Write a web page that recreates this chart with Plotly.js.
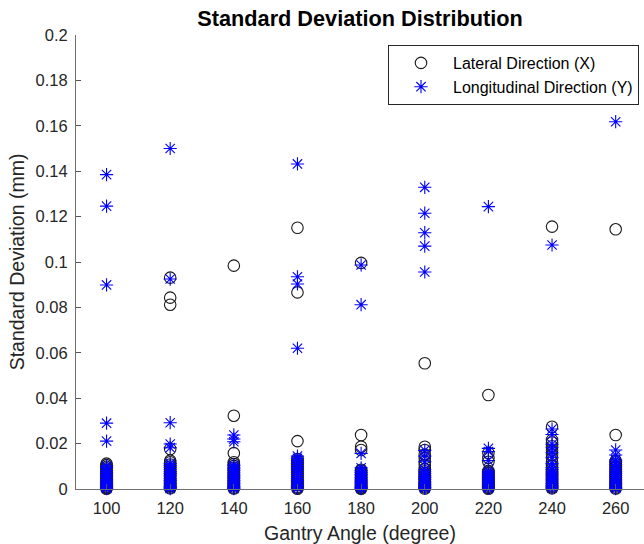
<!DOCTYPE html>
<html>
<head>
<meta charset="utf-8">
<script src="https://cdn.plot.ly/plotly-3.0.1.min.js"></script>
<style>html,body{margin:0;padding:0;background:#fff;}#chart{width:644px;height:544px;}</style>
</head>
<body>
<div id="chart"></div>
<script>
var angles = [100, 120, 140, 160, 180, 200, 220, 240, 260];
var tickLabels = ['100', '120', '140', '160', '180', '200', '220', '240', '260'];

// Lateral Direction (X) standard deviations per gantry angle (mm)
var lat100 = [0.0112, 0.0105, 0.0098, 0.0091, 0.0085, 0.0078, 0.0072, 0.0066, 0.0060, 0.0053, 0.0047, 0.0041, 0.0035, 0.0029, 0.0023, 0.0017, 0.0012, 0.0008, 0.0004, 0.0001];
var lat120 = [0.0931, 0.0843, 0.0812, 0.0176, 0.0125, 0.0118, 0.0108, 0.0099, 0.0090, 0.0082, 0.0074, 0.0066, 0.0058, 0.0050, 0.0042, 0.0035, 0.0027, 0.0020, 0.0013, 0.0007, 0.0003];
var lat140 = [0.0984, 0.0323, 0.0158, 0.0118, 0.0110, 0.0102, 0.0094, 0.0086, 0.0078, 0.0070, 0.0062, 0.0054, 0.0046, 0.0039, 0.0032, 0.0025, 0.0018, 0.0012, 0.0006, 0.0002];
var lat160 = [0.1151, 0.0866, 0.0211, 0.0132, 0.0124, 0.0115, 0.0106, 0.0097, 0.0088, 0.0080, 0.0071, 0.0063, 0.0055, 0.0047, 0.0039, 0.0031, 0.0024, 0.0017, 0.0010, 0.0005, 0.0001];
var lat180 = [0.0996, 0.0238, 0.0186, 0.0172, 0.0085, 0.0079, 0.0072, 0.0065, 0.0058, 0.0051, 0.0044, 0.0038, 0.0031, 0.0025, 0.0019, 0.0013, 0.0008, 0.0004, 0.0001];
var lat200 = [0.0554, 0.0186, 0.0172, 0.0152, 0.0135, 0.0120, 0.0105, 0.0088, 0.0078, 0.0070, 0.0062, 0.0054, 0.0046, 0.0039, 0.0032, 0.0025, 0.0018, 0.0012, 0.0007, 0.0002];
var lat220 = [0.0414, 0.0159, 0.0137, 0.0120, 0.0080, 0.0074, 0.0067, 0.0060, 0.0053, 0.0046, 0.0040, 0.0033, 0.0027, 0.0021, 0.0015, 0.0010, 0.0005, 0.0001];
var lat240 = [0.1156, 0.0274, 0.0216, 0.0205, 0.0188, 0.0170, 0.0152, 0.0135, 0.0118, 0.0102, 0.0090, 0.0080, 0.0071, 0.0062, 0.0053, 0.0045, 0.0037, 0.0029, 0.0021, 0.0014, 0.0008, 0.0003];
var lat260 = [0.1144, 0.0238, 0.0125, 0.0118, 0.0110, 0.0102, 0.0094, 0.0086, 0.0078, 0.0070, 0.0062, 0.0054, 0.0046, 0.0039, 0.0032, 0.0025, 0.0018, 0.0012, 0.0006, 0.0002];

// Longitudinal Direction (Y) standard deviations per gantry angle (mm)
var lon100 = [0.1385, 0.1246, 0.0899, 0.0290, 0.0211, 0.0102, 0.0094, 0.0081, 0.0073, 0.0065, 0.0058, 0.0049, 0.0042, 0.0036, 0.0030, 0.0024, 0.0018, 0.0013, 0.0009, 0.0005, 0.0002];
var lon120 = [0.1500, 0.0925, 0.0292, 0.0198, 0.0182, 0.0112, 0.0103, 0.0095, 0.0086, 0.0077, 0.0069, 0.0061, 0.0054, 0.0046, 0.0038, 0.0031, 0.0024, 0.0017, 0.0011, 0.0006, 0.0002];
var lon140 = [0.0238, 0.0220, 0.0208, 0.0105, 0.0097, 0.0090, 0.0082, 0.0074, 0.0066, 0.0059, 0.0051, 0.0044, 0.0037, 0.0030, 0.0023, 0.0017, 0.0011, 0.0006, 0.0002];
var lon160 = [0.1432, 0.0935, 0.0903, 0.0620, 0.0145, 0.0135, 0.0124, 0.0113, 0.0103, 0.0093, 0.0083, 0.0073, 0.0064, 0.0055, 0.0046, 0.0038, 0.0030, 0.0022, 0.0015, 0.0009, 0.0004];
var lon180 = [0.0987, 0.0812, 0.0157, 0.0093, 0.0080, 0.0072, 0.0064, 0.0057, 0.0050, 0.0043, 0.0036, 0.0029, 0.0023, 0.0017, 0.0011, 0.0006, 0.0002];
var lon200 = [0.1329, 0.1215, 0.1129, 0.1070, 0.0956, 0.0170, 0.0145, 0.0120, 0.0085, 0.0076, 0.0067, 0.0058, 0.0050, 0.0042, 0.0034, 0.0027, 0.0020, 0.0013, 0.0007, 0.0003];
var lon220 = [0.1244, 0.0179, 0.0165, 0.0125, 0.0078, 0.0070, 0.0062, 0.0055, 0.0047, 0.0040, 0.0033, 0.0026, 0.0019, 0.0013, 0.0008, 0.0003];
var lon240 = [0.1075, 0.0264, 0.0240, 0.0197, 0.0182, 0.0160, 0.0140, 0.0112, 0.0095, 0.0085, 0.0075, 0.0066, 0.0057, 0.0048, 0.0040, 0.0032, 0.0024, 0.0017, 0.0010, 0.0004];
var lon260 = [0.1618, 0.0172, 0.0150, 0.0128, 0.0118, 0.0108, 0.0098, 0.0088, 0.0078, 0.0069, 0.0060, 0.0051, 0.0043, 0.0035, 0.0027, 0.0020, 0.0013, 0.0007, 0.0002];

var lateralGroups = [lat100, lat120, lat140, lat160, lat180, lat200, lat220, lat240, lat260];
var longitudinalGroups = [lon100, lon120, lon140, lon160, lon180, lon200, lon220, lon240, lon260];

function flatten(groups) {
  var xs = [], ys = [];
  groups.forEach(function (g, i) {
    g.forEach(function (v) { xs.push(angles[i]); ys.push(v); });
  });
  return {x: xs, y: ys};
}

var latData = flatten(lateralGroups);
var lonData = flatten(longitudinalGroups);

var FONT = 'Arial, "Liberation Sans", Helvetica, sans-serif';

var traces = [
  {
    type: 'scatter', mode: 'markers', name: 'Lateral Direction (X)',
    x: latData.x, y: latData.y, cliponaxis: false,
    marker: {symbol: 'circle-open', size: 11.5, color: '#1a1a1a', line: {width: 1.1, color: '#1a1a1a'}}
  },
  {
    type: 'scatter', mode: 'markers', name: 'Longitudinal Direction (Y)',
    x: lonData.x, y: lonData.y, cliponaxis: false,
    marker: {symbol: 'asterisk-open', size: 11, color: '#0000ff', line: {width: 1.1, color: '#0000ff'}}
  }
];

var layout = {
  width: 644, height: 544,
  margin: {l: 76, r: 0, t: 35, b: 55, pad: 0},
  paper_bgcolor: '#ffffff', plot_bgcolor: '#ffffff',
  font: {family: FONT, size: 16, color: '#262626'},
  title: {
    text: '<b>Standard Deviation Distribution</b>',
    font: {family: FONT, size: 21.7, color: '#000000'},
    x: 0.5, xref: 'paper', xanchor: 'center',
    y: 1 - 18 / 544, yref: 'container', yanchor: 'middle'
  },
  xaxis: {
    range: [90.4, 268.9],
    tickmode: 'array', tickvals: angles, ticktext: tickLabels,
    ticks: 'inside', ticklen: 5, tickcolor: '#555555', tickwidth: 1,
    ticklabelstandoff: 4,
    showline: true, linecolor: '#707070', linewidth: 1,
    showgrid: false, zeroline: false,
    tickfont: {family: FONT, size: 16.5, color: '#262626'},
    title: {text: 'Gantry Angle (degree)', font: {family: FONT, size: 19.5, color: '#262626'}, standoff: 10}
  },
  yaxis: {
    range: [0, 0.2],
    tickmode: 'array',
    tickvals: [0, 0.02, 0.04, 0.06, 0.08, 0.1, 0.12, 0.14, 0.16, 0.18, 0.2],
    ticktext: ['0', '0.02', '0.04', '0.06', '0.08', '0.1', '0.12', '0.14', '0.16', '0.18', '0.2'],
    ticks: 'inside', ticklen: 5, tickcolor: '#555555', tickwidth: 1,
    ticklabelstandoff: 4,
    showline: true, linecolor: '#707070', linewidth: 1,
    showgrid: false, zeroline: false,
    tickfont: {family: FONT, size: 16.5, color: '#262626'},
    title: {text: 'Standard Deviation (mm)', font: {family: FONT, size: 19.5, color: '#262626'}, standoff: 5}
  },
  showlegend: true,
  legend: {
    x: 0.5493, y: 0.978, xanchor: 'left', yanchor: 'top',
    bgcolor: '#ffffff', bordercolor: '#262626', borderwidth: 1,
    font: {family: FONT, size: 16, color: '#000000'},
    itemwidth: 54
  }
};

Plotly.newPlot('chart', traces, layout, {staticPlot: true, displayModeBar: false});
</script>
</body>
</html>
